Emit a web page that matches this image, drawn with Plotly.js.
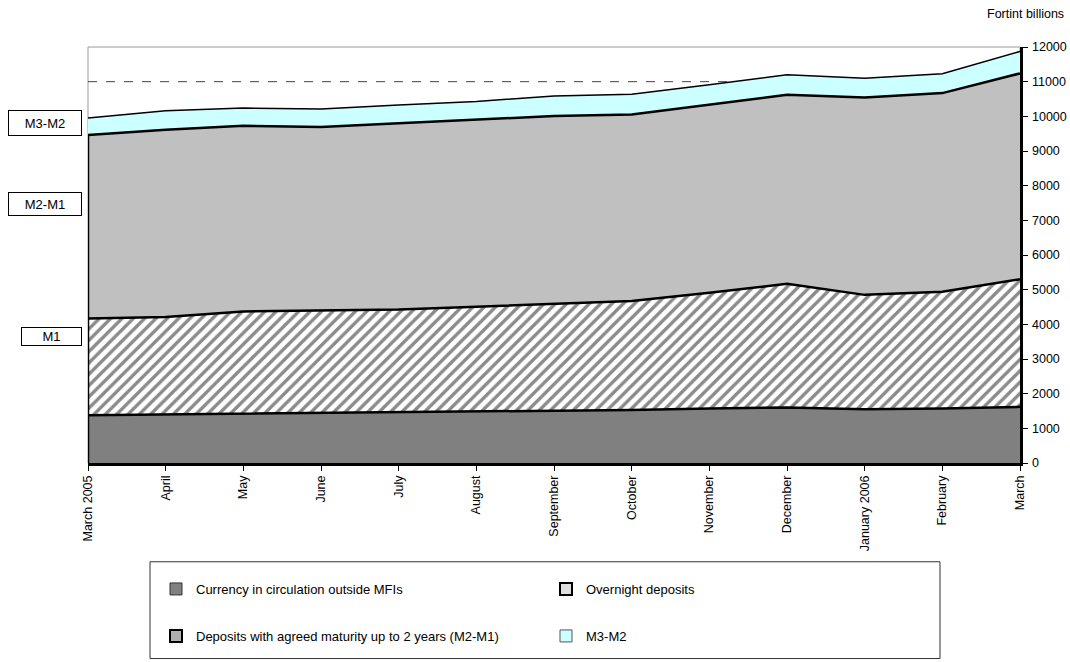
<!DOCTYPE html>
<html>
<head>
<meta charset="utf-8">
<script src="https://cdn.plot.ly/plotly-3.0.1.min.js"></script>
<style>html,body{margin:0;padding:0;background:#fff;}#chart{width:1070px;height:662px;}</style>
</head>
<body>
<div id="chart"></div>
<script>
const months = ["March 2005","April","May","June","July","August","September","October","November","December","January 2006","February","March"];
const currency = [1380,1400,1420,1450,1460,1480,1500,1530,1570,1600,1550,1570,1620];
const overnight = [2790,2810,2950,2950,2970,3030,3100,3140,3340,3570,3300,3370,3680];
const depositsM2M1 = [5290,5400,5360,5290,5370,5390,5410,5380,5420,5450,5690,5730,5940];
const m3m2 = [490,550,510,520,530,530,580,590,580,580,560,560,630];
const yTicks = [0,1000,2000,3000,4000,5000,6000,7000,8000,9000,10000,11000,12000];
const refLine = 11000;

const FONT = "Arial, 'Liberation Sans', sans-serif";
const m2First = currency[0] + overnight[0] + depositsM2M1[0];

const traces = [
  {name:"Currency in circulation outside MFIs", x:months, y:currency, type:"scatter", mode:"lines",
   stackgroup:"one", fillcolor:"#808080", line:{color:"#000", width:2.5}, showlegend:false, hoverinfo:"skip"},
  {name:"Overnight deposits", x:months, y:overnight, type:"scatter", mode:"lines",
   stackgroup:"one", fillcolor:"#ffffff",
   fillpattern:{shape:"/", bgcolor:"#ffffff", fgcolor:"#8a8a8a", size:8, solidity:0.42},
   line:{color:"#000", width:2.5}, showlegend:false, hoverinfo:"skip"},
  {name:"Deposits with agreed maturity up to 2 years (M2-M1)", x:months, y:depositsM2M1, type:"scatter", mode:"lines",
   stackgroup:"one", fillcolor:"#c0c0c0", line:{color:"#000", width:2.5}, showlegend:false, hoverinfo:"skip"},
  {name:"M3-M2", x:months, y:m3m2, type:"scatter", mode:"lines",
   stackgroup:"one", fillcolor:"#ccffff", line:{color:"#000", width:1.5}, showlegend:false, hoverinfo:"skip"},
  // legend entries
  {name:"Currency in circulation outside MFIs", type:"bar", x:[null], y:[null], legend:"legend",
   marker:{color:"#808080", line:{color:"#333", width:1}}},
  {name:"Overnight deposits", type:"bar", x:[null], y:[null], legend:"legend",
   marker:{color:"#e0e0e0", line:{color:"#000", width:2}}},
  {name:"Deposits with agreed maturity up to 2 years (M2-M1)", type:"bar", x:[null], y:[null], legend:"legend2",
   marker:{color:"#b0b0b0", line:{color:"#000", width:2}}},
  {name:"M3-M2", type:"bar", x:[null], y:[null], legend:"legend2",
   marker:{color:"#ccffff", line:{color:"#555", width:1}}}
];

const px = p => (p - 88) / 932;
const py = p => (464 - p) / 417;

const legendCommon = {orientation:"h", font:{family:FONT, size:13, color:"#000"}, bgcolor:"rgba(0,0,0,0)",
  borderwidth:0, entrywidth:345, entrywidthmode:"pixels", xanchor:"left", yanchor:"middle", traceorder:"normal"};

const layout = {
  width:1070, height:662,
  margin:{l:88, r:50, t:47, b:198},
  paper_bgcolor:"#ffffff", plot_bgcolor:"rgba(0,0,0,0)",
  font:{family:FONT, size:12.5, color:"#000"},
  showlegend:true,
  legend:Object.assign({x:px(156), y:py(589)}, legendCommon),
  legend2:Object.assign({x:px(156), y:py(636)}, legendCommon),
  xaxis:{type:"category", range:[0, months.length-1], tickangle:-90, ticks:"outside", ticklen:5, tickcolor:"#000",
    showline:true, linecolor:"#000", linewidth:2.5, showgrid:false, zeroline:false,
    tickfont:{family:FONT, size:12.5, color:"#000"}, fixedrange:true},
  yaxis:{side:"right", range:[0,12000], tickvals:yTicks, ticktext:yTicks.map(String), ticks:"outside", ticklen:5,
    tickcolor:"#000", showline:true, linecolor:"#000", linewidth:2.5, showgrid:false, zeroline:false,
    ticklabelstandoff:2,
    tickfont:{family:FONT, size:12.5, color:"#000"}, fixedrange:true},
  shapes:[
    {type:"rect", xref:"paper", yref:"paper", x0:0, x1:1, y0:0, y1:1, line:{color:"#999", width:1}, layer:"below"},
    {type:"line", xref:"paper", yref:"y", x0:0, x1:1, y0:refLine, y1:refLine, line:{color:"#444", width:1, dash:"dash"}, layer:"below"},
    {type:"line", xref:"x", yref:"y", x0:0, x1:0, y0:0, y1:m2First, line:{color:"#000", width:2.5}, layer:"above"},
    {type:"rect", xref:"paper", yref:"paper", x0:px(150), x1:px(940), y0:py(563), y1:py(660), line:{color:"#333", width:1}, fillcolor:"rgba(0,0,0,0)"}
  ],
  annotations:[
    {text:"Fortint billions", xref:"paper", yref:"paper", x:px(1066), y:py(14), xanchor:"right", yanchor:"middle",
     showarrow:false, font:{family:FONT, size:12.5, color:"#000"}},
    {text:"M3-M2", xref:"paper", yref:"paper", x:px(45), y:py(123), xanchor:"center", yanchor:"middle", showarrow:false,
     width:70, height:22, borderpad:1, bordercolor:"#000", borderwidth:1, bgcolor:"#fff", font:{family:FONT, size:13, color:"#000"}},
    {text:"M2-M1", xref:"paper", yref:"paper", x:px(45), y:py(204), xanchor:"center", yanchor:"middle", showarrow:false,
     width:70, height:20, borderpad:1, bordercolor:"#000", borderwidth:1, bgcolor:"#fff", font:{family:FONT, size:13, color:"#000"}},
    {text:"M1", xref:"paper", yref:"paper", x:px(51.5), y:py(337.5), xanchor:"center", yanchor:"middle", showarrow:false,
     width:57, height:15, borderpad:1, bordercolor:"#000", borderwidth:1, bgcolor:"#fff", font:{family:FONT, size:13, color:"#000"}}
  ]
};

Plotly.newPlot("chart", traces, layout, {displayModeBar:false, staticPlot:true});
</script>
</body>
</html>
